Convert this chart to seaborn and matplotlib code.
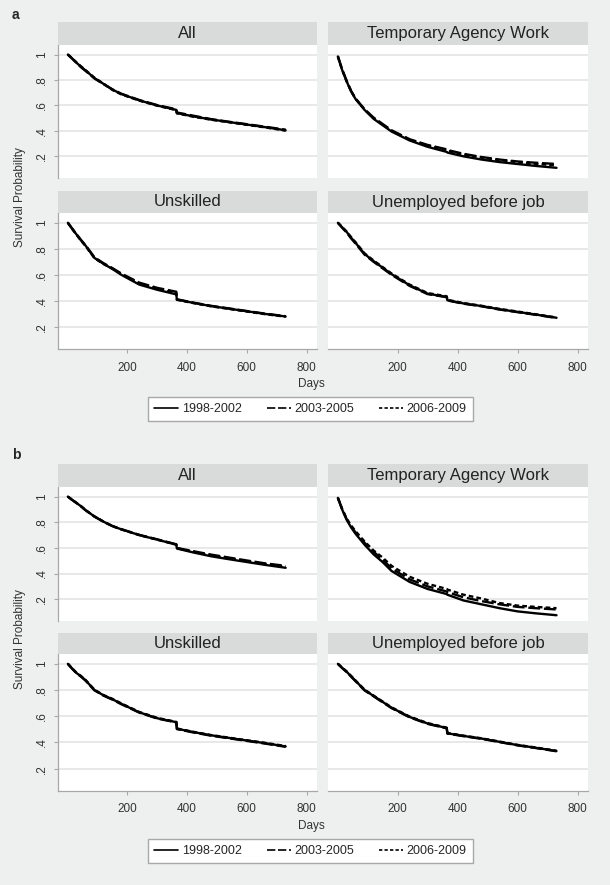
import matplotlib
matplotlib.use("Agg")
import matplotlib.pyplot as plt
import seaborn as sns
import pandas as pd
from matplotlib.lines import Line2D

# days since job start (shared grid for all curves)
days = [1, 15, 30, 45, 60, 90, 120, 150, 180, 240, 300, 364, 366, 420, 480, 540, 600, 660, 730]
periods = ["1998-2002", "2003-2005", "2006-2009"]
titles = ["All", "Temporary Agency Work", "Unskilled", "Unemployed before job"]

# panel a
a_all_9802 = [1.0, 0.97, 0.935, 0.905, 0.875, 0.815, 0.77, 0.725, 0.69, 0.64, 0.60, 0.565, 0.54, 0.515, 0.49, 0.47, 0.45, 0.43, 0.405]
a_all_0305 = [1.0, 0.968, 0.935, 0.90, 0.872, 0.812, 0.768, 0.727, 0.692, 0.643, 0.603, 0.57, 0.545, 0.52, 0.493, 0.472, 0.453, 0.433, 0.41]
a_all_0609 = [1.0, 0.972, 0.938, 0.907, 0.878, 0.818, 0.772, 0.722, 0.687, 0.638, 0.598, 0.563, 0.538, 0.512, 0.488, 0.468, 0.448, 0.428, 0.402]

a_taw_9802 = [0.985, 0.88, 0.79, 0.71, 0.65, 0.565, 0.495, 0.445, 0.395, 0.325, 0.275, 0.235, 0.23, 0.2, 0.175, 0.155, 0.14, 0.125, 0.11]
a_taw_0305 = [0.985, 0.885, 0.795, 0.715, 0.655, 0.57, 0.505, 0.455, 0.405, 0.335, 0.29, 0.255, 0.25, 0.22, 0.195, 0.175, 0.16, 0.15, 0.14]
a_taw_0609 = [0.985, 0.88, 0.79, 0.712, 0.652, 0.568, 0.50, 0.45, 0.40, 0.332, 0.285, 0.25, 0.245, 0.215, 0.19, 0.17, 0.155, 0.14, 0.13]

a_uns_9802 = [1.0, 0.955, 0.91, 0.865, 0.825, 0.73, 0.685, 0.645, 0.60, 0.525, 0.485, 0.45, 0.41, 0.385, 0.36, 0.34, 0.32, 0.30, 0.28]
a_uns_0305 = [1.0, 0.957, 0.912, 0.868, 0.828, 0.735, 0.69, 0.652, 0.61, 0.54, 0.50, 0.47, 0.412, 0.387, 0.362, 0.342, 0.322, 0.302, 0.282]
a_uns_0609 = [1.0, 0.953, 0.908, 0.862, 0.822, 0.728, 0.683, 0.648, 0.605, 0.532, 0.492, 0.46, 0.408, 0.383, 0.358, 0.338, 0.318, 0.298, 0.278]

a_une_9802 = [1.0, 0.965, 0.93, 0.885, 0.845, 0.76, 0.705, 0.655, 0.605, 0.52, 0.455, 0.43, 0.405, 0.38, 0.36, 0.335, 0.315, 0.295, 0.27]
a_une_0305 = [1.0, 0.962, 0.925, 0.88, 0.84, 0.755, 0.70, 0.65, 0.60, 0.515, 0.452, 0.428, 0.403, 0.378, 0.358, 0.333, 0.313, 0.293, 0.268]
a_une_0609 = [1.0, 0.968, 0.933, 0.89, 0.85, 0.765, 0.71, 0.66, 0.61, 0.525, 0.46, 0.435, 0.408, 0.383, 0.362, 0.338, 0.318, 0.297, 0.272]

# panel b
b_all_9802 = [1.0, 0.975, 0.95, 0.925, 0.895, 0.845, 0.805, 0.77, 0.745, 0.70, 0.665, 0.625, 0.595, 0.565, 0.535, 0.512, 0.49, 0.468, 0.445]
b_all_0305 = [1.0, 0.975, 0.95, 0.924, 0.894, 0.844, 0.805, 0.771, 0.746, 0.702, 0.667, 0.628, 0.6, 0.575, 0.548, 0.525, 0.502, 0.48, 0.46]
b_all_0609 = [1.0, 0.976, 0.951, 0.926, 0.896, 0.846, 0.806, 0.77, 0.744, 0.70, 0.664, 0.626, 0.598, 0.57, 0.542, 0.518, 0.496, 0.474, 0.452]

b_taw_9802 = [0.99, 0.90, 0.82, 0.76, 0.71, 0.625, 0.55, 0.49, 0.42, 0.335, 0.28, 0.24, 0.235, 0.19, 0.16, 0.13, 0.105, 0.09, 0.075]
b_taw_0305 = [0.99, 0.905, 0.825, 0.77, 0.72, 0.64, 0.57, 0.51, 0.44, 0.355, 0.30, 0.26, 0.255, 0.215, 0.185, 0.16, 0.14, 0.13, 0.12]
b_taw_0609 = [0.99, 0.905, 0.83, 0.775, 0.73, 0.65, 0.58, 0.525, 0.46, 0.375, 0.32, 0.28, 0.275, 0.235, 0.205, 0.17, 0.15, 0.14, 0.13]

b_uns_9802 = [1.0, 0.965, 0.93, 0.905, 0.875, 0.80, 0.76, 0.73, 0.695, 0.63, 0.585, 0.555, 0.505, 0.48, 0.455, 0.435, 0.415, 0.395, 0.37]
b_uns_0305 = [1.0, 0.963, 0.928, 0.902, 0.872, 0.798, 0.758, 0.727, 0.692, 0.628, 0.583, 0.553, 0.502, 0.477, 0.452, 0.432, 0.412, 0.392, 0.367]
b_uns_0609 = [1.0, 0.967, 0.932, 0.907, 0.878, 0.803, 0.762, 0.733, 0.698, 0.633, 0.588, 0.557, 0.507, 0.482, 0.457, 0.437, 0.417, 0.398, 0.373]

b_une_9802 = [1.0, 0.97, 0.94, 0.905, 0.87, 0.80, 0.755, 0.71, 0.665, 0.595, 0.545, 0.51, 0.47, 0.45, 0.43, 0.405, 0.38, 0.36, 0.335]
b_une_0305 = [1.0, 0.968, 0.937, 0.902, 0.867, 0.797, 0.752, 0.707, 0.662, 0.592, 0.542, 0.508, 0.468, 0.448, 0.428, 0.403, 0.378, 0.358, 0.333]
b_une_0609 = [1.0, 0.972, 0.943, 0.908, 0.873, 0.803, 0.758, 0.713, 0.668, 0.598, 0.548, 0.513, 0.473, 0.452, 0.432, 0.407, 0.382, 0.362, 0.337]

panel_a = [[a_all_9802, a_all_0305, a_all_0609], [a_taw_9802, a_taw_0305, a_taw_0609],
           [a_uns_9802, a_uns_0305, a_uns_0609], [a_une_9802, a_une_0305, a_une_0609]]
panel_b = [[b_all_9802, b_all_0305, b_all_0609], [b_taw_9802, b_taw_0305, b_taw_0609],
           [b_uns_9802, b_uns_0305, b_uns_0609], [b_une_9802, b_une_0305, b_une_0609]]

W, H = 610, 885
BG = "#eeefef"
STRIP = "#d9dada"
AXC = "#a8a8a8"
dash_map = {"1998-2002": "", "2003-2005": (5, 1.6), "2006-2009": (2, 1.3)}

sns.set_style("white")
plt.rcParams["font.family"] = ["Liberation Sans", "DejaVu Sans"]


def rect(x0, y0, x1, y1):
    return [x0 / W, 1 - y1 / H, (x1 - x0) / W, (y1 - y0) / H]


fig = plt.figure(figsize=(W / 100, H / 100), dpi=100, facecolor=BG)

cols = [(58, 317), (328, 588)]
# (strip top, plot top, plot bottom) for each row
layout = {
    "a": [(22, 45, 178), (191, 213, 349)],
    "b": [(464, 487, 621), (633, 654, 791)],
}
extras = {
    "a": dict(letter_y=15, ylab_y=197, days_y=384, leg_y=409),
    "b": dict(letter_y=455, ylab_y=639, days_y=826, leg_y=851),
}

for key, panel in [("a", panel_a), ("b", panel_b)]:
    for i, series in enumerate(panel):
        r, c = divmod(i, 2)
        st, pt, pb = layout[key][r]
        x0, x1 = cols[c]
        ax = fig.add_axes(rect(x0, pt, x1, pb))
        ax.set_facecolor("white")
        df = pd.DataFrame({
            "day": days * 3,
            "surv": series[0] + series[1] + series[2],
            "period": [p for p in periods for _ in days],
        })
        sns.lineplot(data=df, x="day", y="surv", style="period", dashes=dash_map,
                     color="black", lw=1.7, legend=False, ax=ax, estimator=None, sort=False)
        ax.set_xlim(-32, 835)
        ax.set_ylim(0.03, 1.075)
        ax.set_yticks([0.2, 0.4, 0.6, 0.8, 1.0])
        ax.set_yticklabels([".2", ".4", ".6", ".8", "1"])
        ax.set_xticks([200, 400, 600, 800])
        ax.yaxis.grid(True, color="#e4e4e4", lw=1.2)
        ax.xaxis.grid(False)
        ax.set_axisbelow(True)
        ax.set_xlabel("")
        ax.set_ylabel("")
        for s in ax.spines.values():
            s.set_visible(False)
            s.set_color(AXC)
            s.set_linewidth(0.9)
        if c == 0:
            ax.spines["left"].set_visible(True)
            ax.tick_params(axis="y", left=True, length=3, width=0.8, color=AXC,
                           labelsize=8.5, pad=4, labelcolor="#333333")
            for t in ax.get_yticklabels():
                t.set_rotation(90)
                t.set_va("center")
        else:
            ax.tick_params(axis="y", left=False, labelleft=False)
        if r == 1:
            ax.spines["bottom"].set_visible(True)
            ax.tick_params(axis="x", bottom=True, length=3, width=0.8, color=AXC,
                           labelsize=8.5, pad=6, labelcolor="#333333")
        else:
            ax.tick_params(axis="x", bottom=False, labelbottom=False)

        sax = fig.add_axes(rect(x0, st, x1, pt))
        sax.set_facecolor(STRIP)
        sax.set_xticks([])
        sax.set_yticks([])
        for s in sax.spines.values():
            s.set_visible(False)
        sax.text(0.5, 0.5, titles[i], ha="center", va="center", fontsize=12, color="#222222")

    ex = extras[key]
    fig.text(12 / W, 1 - ex["letter_y"] / H, key, fontweight="bold", fontsize=10, va="center")
    fig.text(20 / W, 1 - ex["ylab_y"] / H, "Survival Probability", rotation=90,
             ha="center", va="center", fontsize=8.5, color="#333333")
    fig.text(311 / W, 1 - ex["days_y"] / H, "Days", ha="center", va="center",
             fontsize=8.5, color="#333333")
    handles = [Line2D([], [], color="black", lw=1.2) if d == ""
               else Line2D([], [], color="black", lw=1.2, dashes=d)
               for d in dash_map.values()]
    fig.legend(handles, periods, ncol=3, loc="center",
               bbox_to_anchor=(310.5 / W, 1 - ex["leg_y"] / H), frameon=True, fancybox=False,
               edgecolor=AXC, facecolor="white", framealpha=1, fontsize=9,
               handlelength=1.9, handletextpad=0.3, columnspacing=2.0, borderpad=0.5)

plt.savefig("out.png", dpi=100, facecolor=BG)
